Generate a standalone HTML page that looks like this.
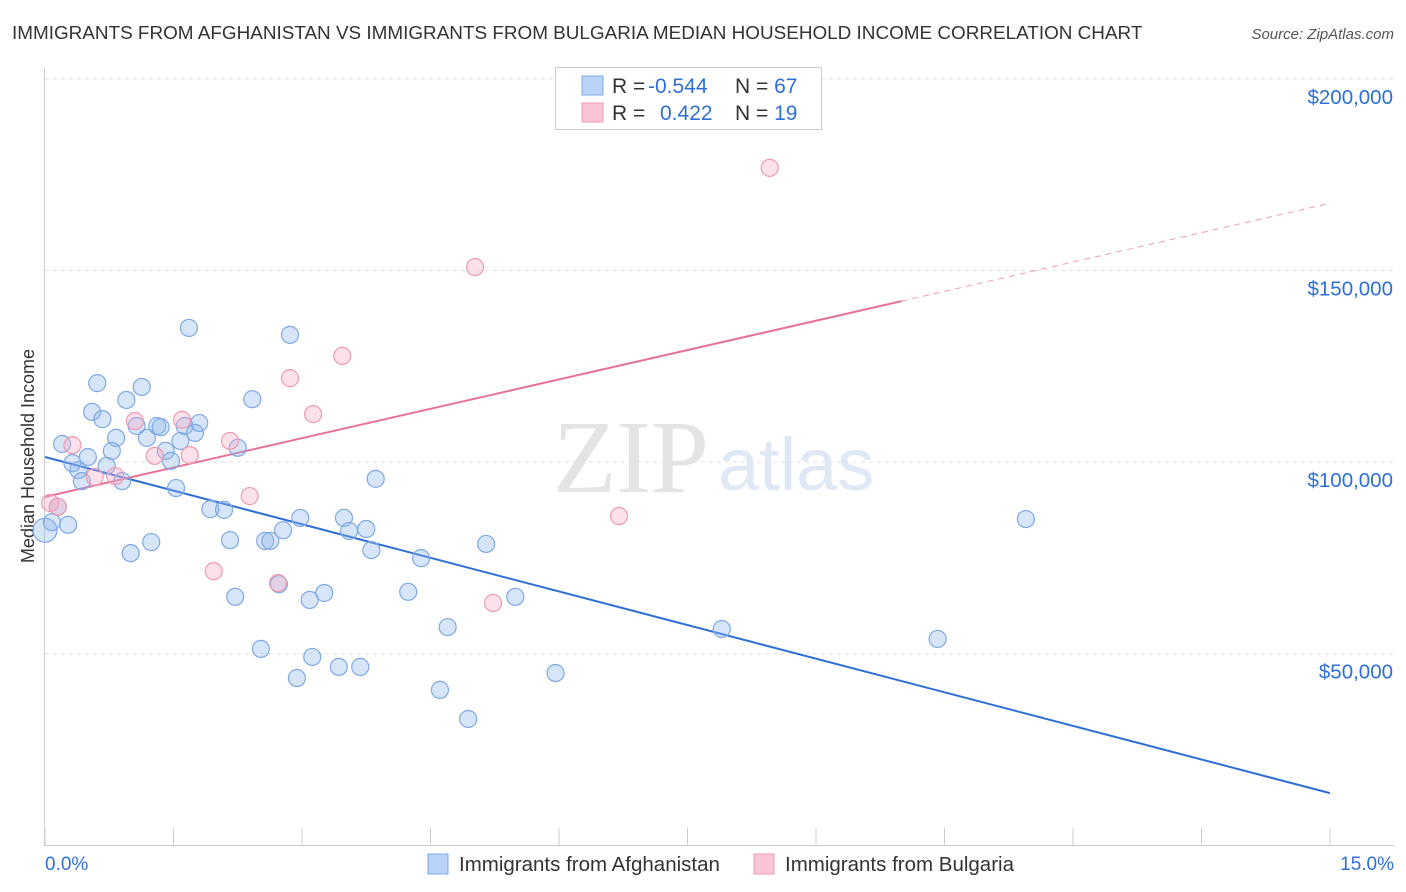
<!DOCTYPE html>
<html><head><meta charset="utf-8">
<style>
body{margin:0;background:#fff;font-family:"Liberation Sans",sans-serif;}
#wrap{position:relative;width:1406px;height:892px;overflow:hidden;}
</style></head>
<body>
<div id="wrap">
<svg id="chart" width="1406" height="892" xmlns="http://www.w3.org/2000/svg">
<text x="12" y="39" font-size="18.9" fill="#333">IMMIGRANTS FROM AFGHANISTAN VS IMMIGRANTS FROM BULGARIA MEDIAN HOUSEHOLD INCOME CORRELATION CHART</text>
<text x="1394" y="39" font-size="15" fill="#555" font-style="italic" text-anchor="end">Source: ZipAtlas.com</text>
<text x="553" y="492" font-size="104" fill="#e4e4e4" font-family="Liberation Serif,serif">ZIP</text>
<text x="718" y="490" font-size="74" fill="#dfe8f4">atlas</text>
<text transform="translate(34,456) rotate(-90)" font-size="18" fill="#333" text-anchor="middle">Median Household Income</text>
<g id="grid"></g><g id="axes"></g><g id="lines"></g><g id="pts"></g>
<g>
<rect x="555.5" y="67.5" width="266" height="62" fill="#fff" stroke="#ccc"/>
<rect x="582" y="76" width="21" height="19" fill="#b8d3f5" stroke="#7fa9e3"/>
<rect x="582" y="103" width="21" height="19" fill="#f9c5d4" stroke="#ee9ab3"/>
<text x="612" y="93" font-size="21" fill="#333">R = <tspan x="648" fill="#2f6fd6">-0.544</tspan><tspan x="735">N = </tspan><tspan fill="#2f6fd6">67</tspan></text>
<text x="612" y="120" font-size="21" fill="#333">R = <tspan x="660" fill="#2f6fd6">0.422</tspan><tspan x="735">N = </tspan><tspan fill="#2f6fd6">19</tspan></text>
</g>
<g>
<rect x="428" y="854" width="20" height="20" fill="#b8d3f5" stroke="#7fa9e3"/>
<text x="459" y="871" font-size="20.5" fill="#333">Immigrants from Afghanistan</text>
<rect x="754" y="854" width="20" height="20" fill="#f9c5d4" stroke="#ee9ab3"/>
<text x="785" y="871" font-size="20.5" fill="#333">Immigrants from Bulgaria</text>
</g>
</svg>
</div>
<script>
const yTicks=[50000,100000,150000,200000];
const yTickLabels=["$50,000","$100,000","$150,000","$200,000"];
const xTickLabels=["0.0%","15.0%"];
const blueX=[0,0.08,0.15,0.27,0.20,0.32,0.39,0.43,0.50,0.55,0.61,0.67,0.72,0.78,0.83,0.90,0.95,1.00,1.07,1.13,1.19,1.24,1.31,1.35,1.41,1.47,1.53,1.58,1.63,1.68,1.75,1.80,1.93,2.09,2.16,2.22,2.25,2.42,2.52,2.57,2.63,2.78,2.73,2.86,2.94,2.98,3.09,3.12,3.26,3.43,3.49,3.55,3.68,3.75,3.81,3.86,4.24,4.39,4.61,4.70,4.94,5.15,5.49,5.96,7.90,10.42,11.45];
const blueY=[82.2,84.3,88.3,83.6,104.7,99.7,97.9,95.0,101.3,113.1,120.6,111.2,99.0,102.9,106.3,95.0,116.2,76.2,109.4,119.6,106.3,79.1,109.4,109.1,102.9,100.3,93.2,105.5,109.4,135.0,107.6,110.2,87.7,87.5,79.6,64.8,103.7,116.4,51.2,79.4,79.4,82.2,68.1,133.2,43.6,85.4,64.0,49.1,65.8,46.5,85.4,82.0,46.5,82.5,77.0,95.6,66.1,74.9,40.5,56.9,32.9,78.6,64.8,44.9,56.4,53.8,85.1];
const pinkX=[0.06,0.15,0.32,0.58,0.82,1.05,1.28,1.60,1.69,2.16,1.97,2.39,2.72,2.86,3.13,3.47,5.02,5.23,6.70,8.46];
const pinkY=[89.3,88.3,104.4,96.1,96.3,110.7,101.6,111.0,101.8,105.5,71.5,91.1,68.4,121.9,112.5,127.7,150.9,63.2,85.9,176.8];
const blueFit=[101.3,-5.85];
const pinkFit=[90.9,5.11];
const pinkSolidEnd=10;
const NS="http://www.w3.org/2000/svg";
const xs=p=>45+p*1285/15;
const ys=v=>462-(v-100)*191.5/50;
function mk(t,a,parent){const e=document.createElementNS(NS,t);for(const k in a)e.setAttribute(k,a[k]);document.getElementById(parent).appendChild(e);return e;}
yTicks.forEach((v,i)=>{
 const g=mk('line',{x1:45,x2:1394,y1:ys(v/1000),y2:ys(v/1000),stroke:'#e2e2e2','stroke-dasharray':'4,4'},'grid');
 
 
 const t=mk('text',{x:1393,y:ys(v/1000)+25,'font-size':20.5,fill:'#2f6fd6','text-anchor':'end'},'axes');
 t.textContent=yTickLabels[i];
 
 
});
mk('line',{x1:44.5,x2:44.5,y1:68,y2:845,stroke:'#ccc'},'axes');
mk('line',{x1:44,x2:1394,y1:845.5,y2:845.5,stroke:'#ccc'},'axes');
for(let i=0;i<=10;i++){const l=mk('line',{x1:xs(i*1.5),x2:xs(i*1.5),y1:828,y2:845,stroke:'#ccc'},'axes');
 
 }
[[0,'start',45],[1,'end',1394]].forEach(([i,a,x])=>{const t=mk('text',{x:x,y:870,'font-size':19,fill:'#2f6fd6','text-anchor':a},'axes');t.textContent=xTickLabels[i];
 
 });
const bl=mk('line',{x1:xs(0),y1:ys(blueFit[0]),x2:xs(15),y2:ys(blueFit[0]+blueFit[1]*15),stroke:'#2f6fd6','stroke-width':2},'lines');


const pl=mk('line',{x1:xs(0),y1:ys(pinkFit[0]),x2:xs(pinkSolidEnd),y2:ys(pinkFit[0]+pinkFit[1]*pinkSolidEnd),stroke:'#e8719a','stroke-width':2},'lines');


const pd=mk('line',{x1:xs(pinkSolidEnd),y1:ys(pinkFit[0]+pinkFit[1]*pinkSolidEnd),x2:xs(15),y2:ys(pinkFit[0]+pinkFit[1]*15),stroke:'#e8a0b8','stroke-width':1,'stroke-dasharray':'6,5'},'lines');


blueX.forEach((x,i)=>{const c=mk('circle',{cx:xs(x),cy:ys(blueY[i]),r:i==0?12:8.5,fill:'rgba(140,180,235,0.35)',stroke:'#7fa9e3','stroke-width':1.2},'pts');
 
 });
pinkX.forEach((x,i)=>{const c=mk('circle',{cx:xs(x),cy:ys(pinkY[i]),r:8.5,fill:'rgba(245,170,195,0.35)',stroke:'#ee9ab3','stroke-width':1.2},'pts');
 
 });
</script>
</body></html>
